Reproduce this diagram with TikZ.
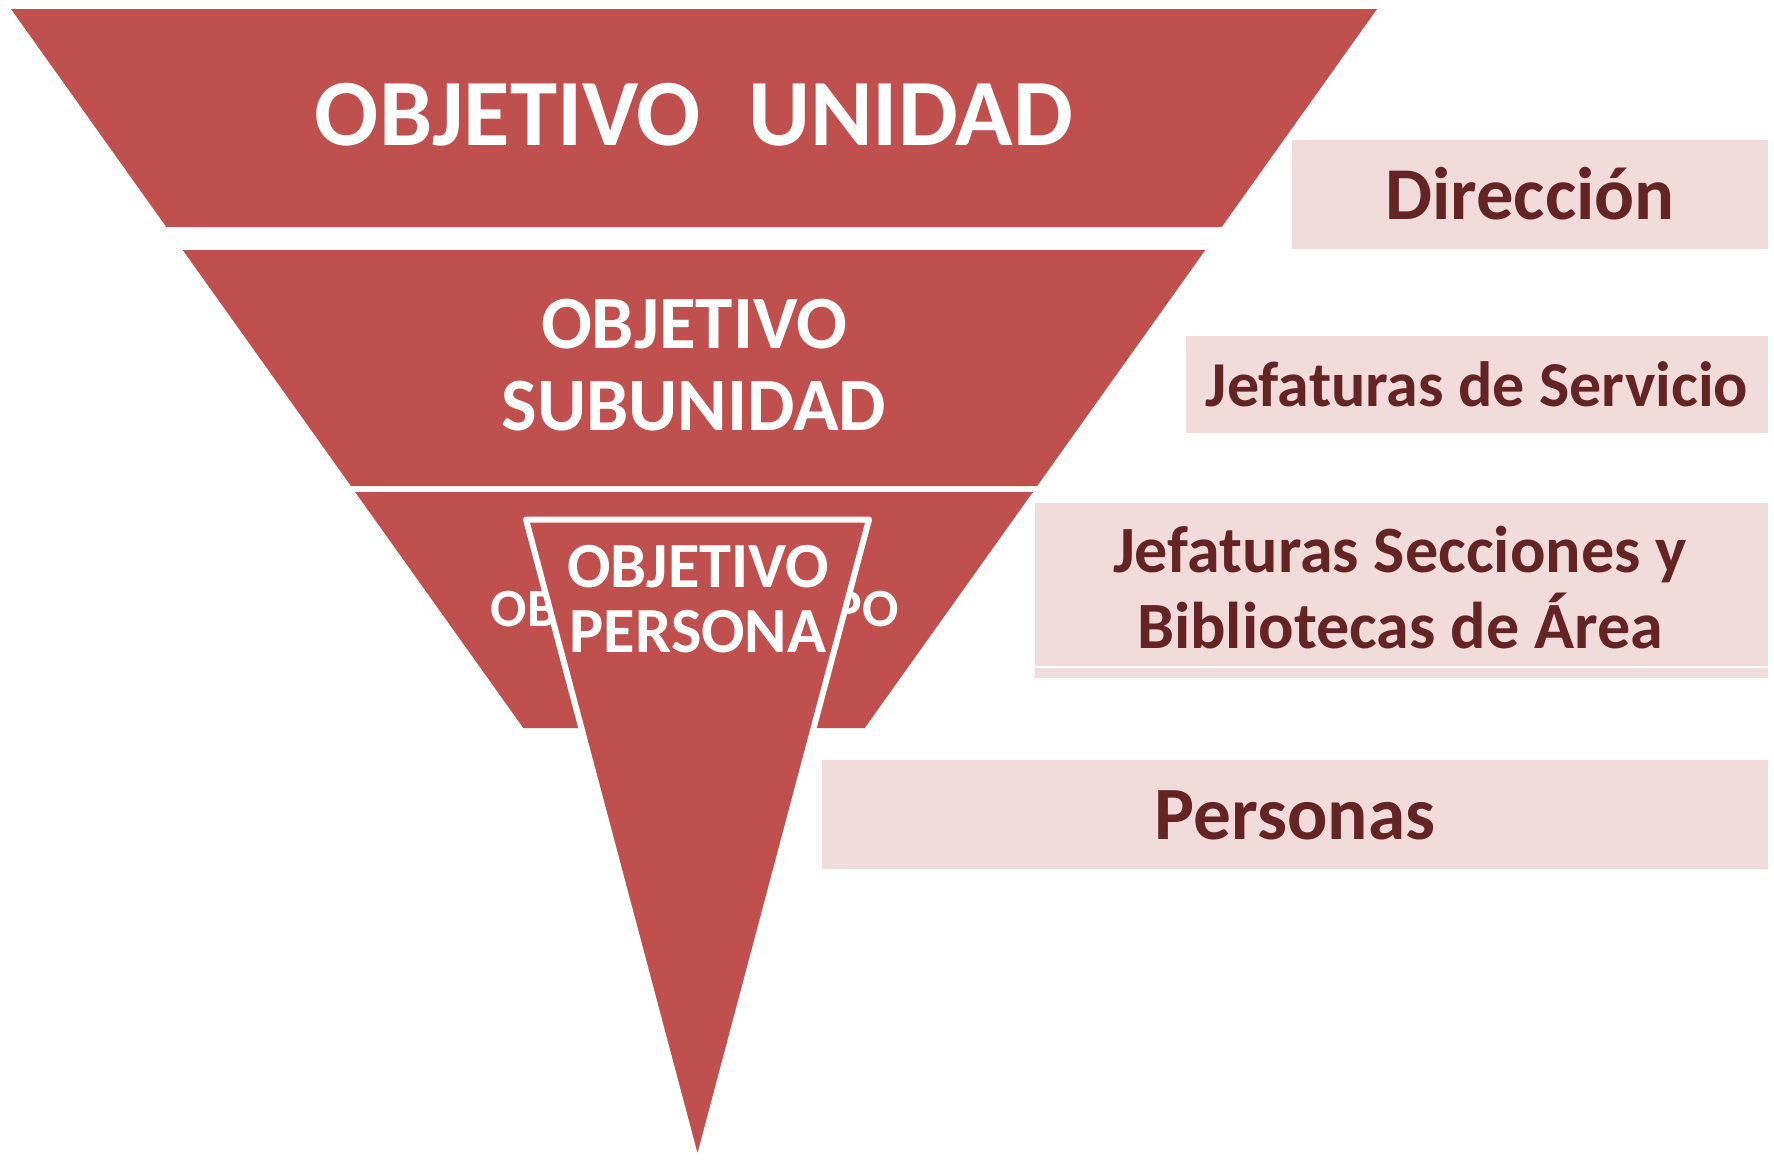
\documentclass[tikz,border=0pt]{standalone}
\usepackage{fontspec}
\setmainfont{Carlito}
\definecolor{rojo}{HTML}{C0504D}
\definecolor{rosa}{HTML}{F2DCDB}
\definecolor{granate}{HTML}{632423}
\tikzset{
  nivel/.style={fill=rojo},
  caja/.style={fill=rosa},
  blanco/.style={text=white, inner sep=0, anchor=base, align=center},
  oscuro/.style={text=granate, inner sep=0, anchor=base, align=center}
}
\begin{document}
\begin{tikzpicture}[x=0.01cm,y=-0.01cm]
  \useasboundingbox (0,0) rectangle (1774,1163);
  % niveles de la piramide
  \fill [nivel] (11,9) -- (1377,9) -- (1221.7,227) -- (166.3,227) -- cycle;
  \fill [nivel] (182.7,250) -- (1205.3,250) -- (1037.1,486) -- (350.9,486) -- cycle;
  \fill [nivel] (355.1,492) -- (1032.9,492) -- (864.7,728) -- (523.3,728) -- cycle;
  \node (unidad) [blanco, font=\bfseries\fontsize{27pt}{30pt}\selectfont] at (694,145) {OBJETIVO\hspace{0.5em}UNIDAD};
  \node (subunidad) [blanco, font=\bfseries\fontsize{21.4pt}{23.2pt}\selectfont] at (694,430) {OBJETIVO\\SUBUNIDAD};
  \node (equipo) [blanco, font=\bfseries\fontsize{15.3pt}{17pt}\selectfont] at (694.5,626) {OBJETIVO EQUIPO};
  % persona encima
  \filldraw [nivel, draw=white, line width=0.06cm, line join=round] (526,519.5) -- (869,519.5) -- (697.5,1165) -- cycle;
  \node (persona) [blanco, font=\bfseries\fontsize{18.3pt}{18.6pt}\selectfont] at (698,652.7) {OBJETIVO\\PERSONA};
  % cajas de la derecha
  \fill [caja] (1292,140) rectangle (1768,249);
  \fill [caja] (1186,336) rectangle (1768,433);
  \fill [caja] (1035,503) rectangle (1768,678);
  \draw [white, line width=0.025cm] (1035,667) -- (1768,667);
  \fill [caja] (822,760) rectangle (1768,869);
  \node (direccion) [oscuro, font=\bfseries\fontsize{21.2pt}{23pt}\selectfont] at (1530,219) {Dirección};
  \node (servicio) [oscuro, font=\bfseries\fontsize{18.2pt}{20pt}\selectfont] at (1477,406) {Jefaturas de Servicio};
  \node (secciones) [oscuro, font=\bfseries\fontsize{18.8pt}{21.5pt}\selectfont] at (1400,648.3) {Jefaturas Secciones y\\Bibliotecas de Área};
  \node (personas) [oscuro, font=\bfseries\fontsize{21.4pt}{23pt}\selectfont] at (1295,839.5) {Personas};
\end{tikzpicture}
\end{document}
